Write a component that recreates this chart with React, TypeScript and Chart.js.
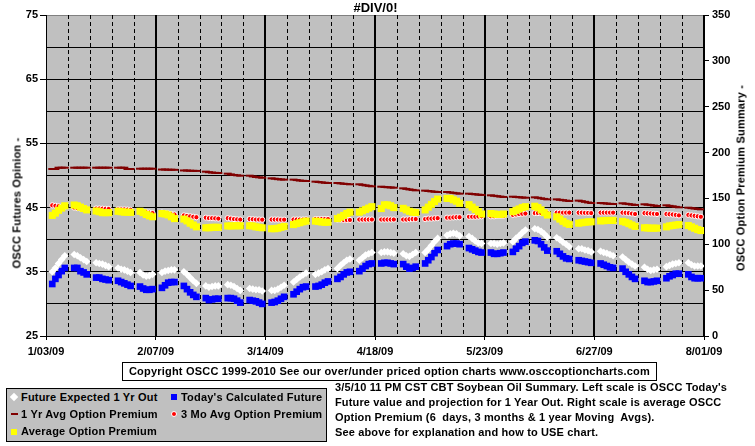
import React, { useEffect, useRef } from "react";
import { Chart, registerables } from "chart.js";
Chart.register(...registerables);

const FONT = "'Liberation Sans', Arial, Helvetica, sans-serif";

// Day offsets from 1/03/09 of each week's Monday (5 trading days per week)
const weekMondays = [2, 9, 16, 23, 30, 37, 44, 51, 58, 65, 72, 79, 86, 93, 100, 107, 114, 121, 128, 135, 142, 149, 156, 163, 170, 177, 184, 191, 198, 205];
const xTickLabels = ["1/03/09", "2/07/09", "3/14/09", "4/18/09", "5/23/09", "6/27/09", "8/01/09"];

// Left axis (OSCC Futures Opinion)
const futureExpected1Yr = [
  [35.0, 35.6, 36.3, 36.9, 37.5], [37.7, 37.5, 37.2, 36.9, 36.6], [36.4, 36.3, 36.2, 36.0, 35.8],
  [35.6, 35.4, 35.3, 35.1, 34.9], [34.9, 34.5, 34.3, 34.4, 34.6], [34.9, 35.1, 35.2, 35.3, 35.3],
  [35.0, 34.6, 34.1, 33.6, 33.2], [32.8, 32.6, 32.7, 32.8, 32.8], [33.0, 32.9, 32.7, 32.4, 32.1],
  [32.4, 32.3, 32.2, 32.2, 32.0], [32.1, 32.1, 32.3, 32.6, 32.9], [33.4, 33.8, 34.2, 34.5, 34.8],
  [34.6, 34.8, 35.0, 35.3, 35.5], [35.5, 36.0, 36.4, 36.8, 37.0], [36.8, 37.2, 37.6, 37.8, 38.0],
  [38.0, 38.1, 38.1, 38.0, 37.9], [37.8, 37.5, 37.4, 37.7, 38.0], [38.0, 38.5, 39.1, 39.7, 40.2],
  [40.7, 40.9, 41.0, 40.9, 40.6], [40.5, 40.2, 39.8, 39.5, 39.4], [39.4, 39.4, 39.3, 39.4, 39.5],
  [39.7, 40.2, 40.6, 41.1, 41.5], [41.7, 41.6, 41.3, 40.9, 40.4], [40.3, 40.0, 39.6, 39.3, 38.9],
  [38.6, 38.6, 38.4, 38.3, 38.1], [38.2, 38.0, 37.9, 37.7, 37.5], [37.3, 36.9, 36.5, 36.2, 35.9],
  [35.7, 35.4, 35.2, 35.3, 35.4], [35.8, 36.0, 36.2, 36.3, 36.4], [36.4, 36.1, 35.9, 35.9, 35.9],
];
const todaysCalculated = [
  [33.1, 33.9, 34.5, 35.1, 35.6], [35.6, 35.6, 35.1, 34.9, 34.6], [34.1, 34.1, 33.9, 33.8, 33.7],
  [33.6, 33.4, 33.2, 33.0, 32.8], [32.7, 32.4, 32.2, 32.2, 32.3], [32.5, 32.9, 33.3, 33.4, 33.4],
  [32.8, 32.3, 31.8, 31.4, 31.1], [30.9, 30.6, 30.7, 30.8, 30.8], [30.9, 30.9, 30.8, 30.5, 30.2],
  [30.6, 30.5, 30.4, 30.2, 30.0], [30.2, 30.3, 30.5, 30.8, 31.1], [31.5, 31.9, 32.3, 32.6, 32.7],
  [32.7, 32.8, 33.0, 33.3, 33.5], [33.9, 34.2, 34.6, 34.9, 35.0], [35.1, 35.5, 35.9, 36.2, 36.3],
  [36.3, 36.4, 36.4, 36.3, 36.2], [36.2, 35.8, 35.5, 35.6, 35.8], [36.3, 36.8, 37.3, 37.9, 38.4],
  [39.0, 39.3, 39.4, 39.4, 39.3], [38.7, 38.5, 38.3, 38.1, 38.0], [38.0, 37.8, 37.8, 37.9, 38.0],
  [38.1, 38.6, 39.0, 39.5, 39.7], [39.9, 39.8, 39.3, 38.8, 38.3], [38.2, 37.8, 37.4, 37.1, 37.0],
  [36.8, 36.7, 36.6, 36.5, 36.4], [36.3, 36.1, 35.9, 35.7, 35.6], [35.5, 35.0, 34.6, 34.2, 33.9],
  [33.6, 33.4, 33.4, 33.5, 33.6], [34.0, 34.3, 34.5, 34.7, 34.7], [34.6, 34.2, 34.0, 34.0, 34.0],
];

// Right axis (OSCC Option Premium Summary)
const oneYrAvgPremium = [
  [182.1, 182.1, 183.5, 183.5, 183.5], [183.5, 183.5, 183.5, 183.5, 183.5], [183.5, 183.5, 183.5, 183.5, 183.5],
  [183.5, 183.5, 183.5, 182.1, 182.1], [182.4, 182.4, 182.4, 182.4, 182.4], [181.5, 181.5, 181.3, 181.3, 181.2],
  [180.5, 180.4, 180.2, 180.1, 180.0], [179.2, 178.6, 178.2, 177.9, 177.7], [177.0, 176.2, 175.6, 175.2, 174.8],
  [174.8, 174.0, 173.4, 173.0, 172.6], [171.9, 171.5, 171.0, 170.7, 170.5], [170.5, 170.0, 169.5, 169.2, 169.0],
  [168.3, 167.9, 167.5, 167.1, 166.8], [166.8, 166.4, 166.0, 165.7, 165.4], [165.4, 164.8, 164.2, 163.7, 163.2],
  [162.8, 162.5, 162.2, 162.0, 161.7], [161.0, 160.4, 159.8, 159.3, 158.8], [158.5, 158.1, 157.7, 157.3, 157.0],
  [157.0, 156.5, 156.1, 155.6, 155.2], [155.2, 154.8, 154.5, 154.1, 153.8], [153.4, 152.9, 152.5, 152.0, 151.6],
  [151.9, 151.6, 151.3, 151.0, 150.8], [151.2, 150.7, 150.1, 149.5, 149.0], [149.0, 148.5, 148.1, 147.6, 147.2],
  [147.6, 147.0, 146.3, 145.6, 145.0], [145.0, 144.7, 144.4, 144.1, 143.9], [144.7, 144.2, 143.8, 143.3, 142.9],
  [143.6, 143.1, 142.7, 142.2, 141.8], [142.5, 141.9, 141.4, 140.8, 140.3], [139.9, 139.4, 139.0, 138.5, 138.1],
];
const threeMoAvgPremium = [
  [142.5, 142, 141.5, 141, 141], [140, 139.5, 139, 138.5, 138], [139, 139, 138.8, 138.6, 138.5],
  [138, 138, 138, 137.8, 137.5], [136, 135.5, 135, 134.5, 134], [134.5, 134, 133.5, 133, 132.5],
  [131.5, 131, 130.5, 130, 129.5], [129, 128.5, 128.5, 128.3, 128], [128.5, 128, 127.5, 127.2, 127],
  [127.5, 127.3, 127, 127, 126.8], [127, 127, 127, 126.8, 126.8], [127, 127, 127, 127, 127.2],
  [127.5, 127.5, 127.5, 127.5, 127.5], [127, 126.8, 126.5, 126.5, 126.5], [127, 127, 127, 127, 127],
  [127, 127, 127, 127, 127], [127, 127, 127.3, 127.5, 127.5], [127.5, 128, 128, 128.3, 128.5],
  [129, 129, 129.3, 129.5, 129.5], [130, 130, 130, 130.3, 130.5], [130.5, 130.5, 131, 131, 131],
  [132, 132.5, 133, 133.3, 133.5], [134, 134, 134, 134, 134], [134.5, 134.5, 134.5, 134.5, 134.5],
  [134.5, 134.5, 134.3, 134.2, 134], [134.5, 134.5, 134.5, 134.5, 134.5], [134.5, 134.3, 134, 133.5, 133],
  [134, 133.8, 133.6, 133.3, 133], [133, 132.8, 132.5, 132, 131.5], [132, 131.5, 131, 130.5, 130],
];
const averagePremium = [
  [131.5, 134, 137, 139.5, 142], [142.8, 142, 140.5, 139, 137.5], [136.3, 135.5, 134.5, 134.5, 134.5],
  [136, 135.5, 135, 135, 134.8], [136, 134.5, 132.5, 131, 130], [133.5, 133, 132, 130, 128],
  [127.5, 125.5, 123, 121, 119], [118, 118, 118.5, 118.5, 118.5], [120, 120, 120.2, 120.2, 120.2],
  [120.2, 120, 119, 118.5, 118], [117, 117, 117.5, 118.5, 119.5], [121.5, 122.5, 123.5, 124.5, 125.3],
  [125.3, 124.8, 124.3, 124, 124], [128, 129.5, 131.5, 133.5, 135], [135, 136.5, 138, 139.5, 141],
  [139, 143, 143, 142, 140], [139.2, 137.5, 136, 135, 134.7], [137.5, 140.5, 143.5, 146.5, 149.3],
  [150, 150, 148.5, 147, 144.7], [143.2, 140.5, 138, 135.5, 133], [133.5, 133, 132.5, 132.5, 133],
  [135.5, 137, 138.5, 140, 141], [141.5, 140, 137.5, 134.5, 131.9], [130, 127.5, 125, 123, 121.7],
  [123, 123.5, 124, 124.5, 124.5], [125.5, 125.7, 126, 126, 126], [125, 124, 122.5, 121, 119.5],
  [118, 117.8, 117.6, 117.6, 117.6], [119, 120, 120.5, 121, 121.5], [120.5, 119, 117.5, 116, 115],
];

function toPoints(weeks: number[][]) {
  const pts: { x: number; y: number }[] = [];
  weeks.forEach((w, k) => w.forEach((v, i) => pts.push({ x: weekMondays[k] + i, y: v })));
  return pts;
}

const bgPlugin = {
  id: "bgPlot",
  beforeDraw(chart: any) {
    const { ctx, chartArea: a } = chart;
    ctx.save();
    ctx.fillStyle = "#ffffff";
    ctx.fillRect(0, 0, chart.width, chart.height);
    ctx.fillStyle = "#c0c0c0";
    ctx.fillRect(a.left, a.top, a.right - a.left, a.bottom - a.top);
    ctx.restore();
  },
  beforeDatasetsDraw(chart: any) {
    const { ctx, chartArea: a, scales } = chart;
    const x = scales.x;
    ctx.save();
    ctx.strokeStyle = "#000";
    for (let d = 7; d <= 210; d += 7) {
      const px = x.getPixelForValue(d);
      ctx.beginPath();
      if (d % 35 === 0) {
        ctx.lineWidth = 2;
        ctx.setLineDash([]);
        const xx = Math.round(px);
        ctx.moveTo(xx, a.top);
        ctx.lineTo(xx, a.bottom);
      } else {
        ctx.lineWidth = 1;
        ctx.setLineDash([4, 3]);
        const xx = Math.round(px) + 0.5;
        ctx.moveTo(xx, a.top);
        ctx.lineTo(xx, a.bottom);
      }
      ctx.stroke();
    }
    ctx.restore();
  },
};

export default function App() {
  const ref = useRef<HTMLCanvasElement | null>(null);
  useEffect(() => {
    if (!ref.current) return;
    Chart.defaults.color = "#000";
    const tickFont = { family: FONT, size: 11, weight: "bold" as const };
    const chart = new Chart(ref.current, {
      type: "scatter",
      data: {
        datasets: [
          {
            label: "Future Expected 1 Yr Out",
            data: toPoints(futureExpected1Yr),
            yAxisID: "y",
            pointStyle: "rectRot",
            pointRadius: 3.8,
            backgroundColor: "#ffffff",
            borderColor: "#ffffff",
            borderWidth: 0,
            showLine: false,
            order: 3,
          },
          {
            label: "Today's Calculated Future",
            data: toPoints(todaysCalculated),
            yAxisID: "y",
            pointStyle: "rect",
            pointRadius: 4.7,
            backgroundColor: "#0000ff",
            borderColor: "#0000ff",
            borderWidth: 0,
            showLine: false,
            order: 3,
          },
          {
            label: "1 Yr Avg Option Premium",
            data: toPoints(oneYrAvgPremium),
            yAxisID: "y2",
            pointStyle: "line",
            pointRadius: 4,
            backgroundColor: "#800000",
            borderColor: "#800000",
            borderWidth: 2,
            showLine: false,
            order: 2,
          },
          {
            label: "3 Mo Avg Option Premium",
            data: toPoints(threeMoAvgPremium),
            yAxisID: "y2",
            pointStyle: "circle",
            pointRadius: 2.6,
            backgroundColor: "#ff0000",
            borderColor: "#ffffff",
            borderWidth: 1,
            showLine: false,
            order: 1,
          },
          {
            label: "Average Option Premium",
            data: toPoints(averagePremium),
            yAxisID: "y2",
            pointStyle: "rect",
            pointRadius: 5,
            backgroundColor: "#ffff00",
            borderColor: "#ffff00",
            borderWidth: 0,
            showLine: false,
            order: 0,
          },
        ],
      },
      options: {
        responsive: false,
        animation: false,
        events: [],
        layout: { padding: { top: 15, left: 0, right: 0, bottom: 0 } },
        plugins: { legend: { display: false }, tooltip: { enabled: false }, title: { display: false } },
        scales: {
          x: {
            type: "linear",
            min: 0,
            max: 210,
            afterFit: (s: any) => { s.height = 110; },
            afterBuildTicks: (s: any) => { s.ticks = xTickLabels.map((_, i) => ({ value: i * 35 })); },
            ticks: {
              autoSkip: false,
              maxRotation: 0,
              padding: 5,
              font: tickFont,
              color: "#000",
              callback: (v: any) => xTickLabels[Math.round(Number(v) / 35)] ?? "",
            },
            grid: { drawOnChartArea: false, tickLength: 4, color: "#000" },
            border: { display: true, color: "#000", width: 1 },
          },
          y: {
            position: "left",
            min: 25,
            max: 75,
            afterFit: (s: any) => { s.width = 46; },
            ticks: {
              stepSize: 5,
              padding: 2,
              font: tickFont,
              color: "#000",
              callback: (v: any) => ((Number(v) - 25) % 10 === 0 ? String(v) : ""),
            },
            grid: {
              color: (c: any) => (c.tick && c.tick.value === 75 ? "#808080" : "#000"),
              lineWidth: 1,
              tickLength: 6,
              tickColor: (c: any) => (c.tick && (c.tick.value - 25) % 10 === 0 ? "#000" : "rgba(0,0,0,0)"),
            },
            border: { display: true, color: "#000", width: 1 },
          },
          y2: {
            position: "right",
            min: 0,
            max: 350,
            afterFit: (s: any) => { s.width = 51; },
            ticks: { stepSize: 50, padding: 3, font: tickFont, color: "#000" },
            grid: { drawOnChartArea: false, tickLength: 5, color: "#000" },
            border: { display: true, color: "#000", width: 1 },
          },
        },
      },
      plugins: [bgPlugin],
    });
    return () => chart.destroy();
  }, []);

  const txt: React.CSSProperties = { position: "absolute", fontSize: 11, lineHeight: "11px", whiteSpace: "nowrap", letterSpacing: "0.2px" };
  return (
    <div style={{ position: "absolute", left: 0, top: 0, width: 755, height: 446, fontFamily: FONT, fontWeight: "bold", color: "#000", background: "#fff" }}>
      <canvas ref={ref} width={755} height={446} style={{ position: "absolute", left: 0, top: 0, width: 755, height: 446 }} />
      <div style={{ position: "absolute", left: 375.5, top: 1, transform: "translateX(-50%)", fontSize: 13, lineHeight: "13px", whiteSpace: "nowrap" }}>#DIV/0!</div>
      <div style={{ ...txt, left: 17, top: 203, transform: "translate(-50%,-50%) rotate(-90deg)" }}>OSCC Futures Opinion -</div>
      <div style={{ ...txt, left: 741, top: 178, transform: "translate(-50%,-50%) rotate(-90deg)" }}>OSCC Option Premium Summary -</div>

      <div style={{ position: "absolute", left: 122, top: 362, width: 535, height: 19, boxSizing: "border-box", border: "1px solid #000", textAlign: "center", fontSize: 11, lineHeight: "17px", whiteSpace: "nowrap", letterSpacing: "0.2px" }}>
        Copyright OSCC 1999-2010 See our over/under priced option charts www.osccoptioncharts.com
      </div>

      <div style={{ position: "absolute", left: 6, top: 388, width: 321, height: 54, boxSizing: "border-box", border: "1px solid #000", background: "#c0c0c0" }} />
      <div style={{ position: "absolute", left: 11, top: 394, width: 6, height: 6, background: "#fff", transform: "rotate(45deg)" }} />
      <div style={{ ...txt, left: 21, top: 391.7 }}>Future Expected 1 Yr Out</div>
      <div style={{ position: "absolute", left: 171, top: 394, width: 6, height: 6, background: "#0000ff" }} />
      <div style={{ ...txt, left: 181, top: 391.7 }}>Today's Calculated Future</div>
      <div style={{ position: "absolute", left: 11, top: 413, width: 7, height: 2, background: "#800000" }} />
      <div style={{ ...txt, left: 21, top: 408.7 }}>1 Yr Avg Option Premium</div>
      <div style={{ position: "absolute", left: 171, top: 411, width: 6, height: 6, boxSizing: "border-box", borderRadius: "50%", background: "#ff0000", border: "1px solid #fff" }} />
      <div style={{ ...txt, left: 181, top: 408.7 }}>3 Mo Avg Option Premium</div>
      <div style={{ position: "absolute", left: 11, top: 429, width: 6, height: 6, background: "#ffff00" }} />
      <div style={{ ...txt, left: 21, top: 425.7 }}>Average Option Premium</div>

      <div style={{ position: "absolute", left: 335, top: 380, fontSize: 11, lineHeight: "15px", whiteSpace: "pre", letterSpacing: "0.15px" }}>
        {"3/5/10 11 PM CST CBT Soybean Oil Summary. Left scale is OSCC Today's\nFuture value and projection for 1 Year Out. Right scale is average OSCC\nOption Premium (6  days, 3 months & 1 year Moving  Avgs).\nSee above for explanation and how to USE chart."}
      </div>
    </div>
  );
}
